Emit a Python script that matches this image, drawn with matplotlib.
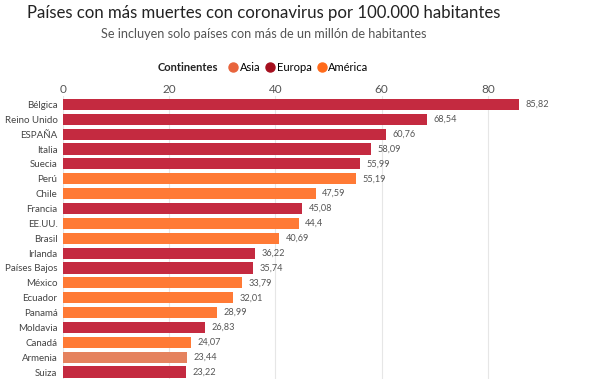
import matplotlib.pyplot as plt
from matplotlib.lines import Line2D

countries = ["Bélgica", "Reino Unido", "ESPAÑA", "Italia", "Suecia", "Perú", "Chile",
             "Francia", "EE.UU.", "Brasil", "Irlanda", "Países Bajos", "México",
             "Ecuador", "Panamá", "Moldavia", "Canadá", "Armenia", "Suiza"]
values = [85.82, 68.54, 60.76, 58.09, 55.99, 55.19, 47.59, 45.08, 44.4, 40.69,
          36.22, 35.74, 33.79, 32.01, 28.99, 26.83, 24.07, 23.44, 23.22]
continent = ["Europa", "Europa", "Europa", "Europa", "Europa", "América", "América",
             "Europa", "América", "América", "Europa", "Europa", "América",
             "América", "América", "Europa", "América", "Asia", "Europa"]

bar_colors = {"Asia": "#e5825e", "Europa": "#c42a40", "América": "#ff7a35"}
legend_colors = {"Asia": "#e8643c", "Europa": "#a50f1e", "América": "#ff6a1a"}

plt.rcParams["font.family"] = ["Lato", "DejaVu Sans"]

fig = plt.figure(figsize=(6, 3.88), dpi=100)
ax = fig.add_axes([0.105, 0.022, 0.885, 0.73])

y = list(range(len(countries)))
ax.barh(y, values, height=0.75, color=[bar_colors[c] for c in continent])
for yi, v in zip(y, values):
    label = ("%g" % v).replace(".", ",")
    ax.text(v + 1.2, yi, label, va="center", ha="left", fontsize=6.6, color="#555555")

ax.set_ylim(len(countries) - 0.5, -0.55)
ax.set_xlim(0, 100)
ax.set_xticks([0, 20, 40, 60, 80])
ax.set_yticks(y)
ax.set_yticklabels(countries, fontsize=7, color="#444444")
ax.xaxis.tick_top()
ax.tick_params(axis="x", length=0, labelsize=8.5, colors="#555555", pad=1)
ax.tick_params(axis="y", length=0, pad=4)
ax.grid(axis="x", color="#e6e6e6", linewidth=0.8)
ax.set_axisbelow(True)
for s in ax.spines.values():
    s.set_visible(False)

fig.text(0.44, 0.967, "Países con más muertes con coronavirus por 100.000 habitantes",
         ha="center", va="center", fontsize=12.1, color="#222222")
fig.text(0.44, 0.913, "Se incluyen solo países con más de un millón de habitantes",
         ha="center", va="center", fontsize=9.1, color="#555555")

fig.text(0.363, 0.827, "Continentes", ha="right", va="center", fontsize=8,
         fontweight="bold", color="#222222")
handles = [Line2D([], [], marker="o", linestyle="", markersize=6.5,
                  color=legend_colors[k], label=k) for k in ["Asia", "Europa", "América"]]
fig.legend(handles=handles, loc="center left", bbox_to_anchor=(0.377, 0.827), ncol=3,
           frameon=False, fontsize=8, handletextpad=0.0, columnspacing=0.3,
           handlelength=1.2, borderaxespad=0, borderpad=0)

fig.savefig("out.png", dpi=100)
